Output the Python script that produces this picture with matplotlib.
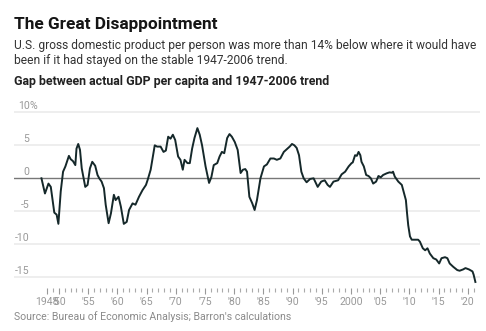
import matplotlib
matplotlib.use('Agg')
import matplotlib.pyplot as plt

# gap between actual GDP per capita and 1947-2006 trend, %
years = [1947.0, 1947.6, 1948.2, 1948.6, 1949.2, 1949.6, 1949.9, 1950.3, 1950.7, 1951.1,
         1951.7, 1952.0, 1952.4, 1952.8, 1953.0, 1953.3, 1953.6, 1953.9, 1954.5, 1954.9,
         1955.3, 1955.7, 1956.2, 1956.6, 1956.9, 1957.3, 1957.7, 1958.0, 1958.5, 1958.9,
         1959.4, 1959.7, 1960.2, 1960.6, 1961.1, 1961.6, 1962.0, 1962.6, 1963.1, 1963.7,
         1964.3, 1964.9, 1965.2, 1965.7, 1966.4, 1966.8, 1967.4, 1967.9, 1968.3, 1968.7,
         1969.1, 1969.5, 1969.9, 1970.4, 1970.8, 1971.2, 1971.5, 1972.0, 1972.4, 1972.8,
         1973.2, 1973.7, 1974.1, 1974.5, 1975.1, 1975.7, 1976.1, 1976.5, 1977.1, 1977.5,
         1977.9, 1978.3, 1978.8, 1979.2, 1979.6, 1980.1, 1980.6, 1981.1, 1981.5, 1981.9,
         1982.2, 1982.6, 1983.1, 1983.5, 1983.9, 1984.5, 1985.1, 1985.6, 1986.2, 1986.8,
         1987.3, 1987.9, 1988.5, 1989.0, 1989.5, 1989.9, 1990.3, 1990.7, 1991.1, 1991.5,
         1991.9, 1992.4, 1993.0, 1993.6, 1994.3, 1994.9, 1995.5, 1996.0, 1996.4, 1997.0,
         1997.8, 1998.4, 1999.0, 1999.6, 2000.1, 2000.3, 2000.7, 2001.0, 2001.3, 2001.6,
         2001.8, 2002.2, 2002.6, 2003.0, 2003.4, 2003.8, 2004.3, 2004.7, 2005.1, 2005.5,
         2006.1, 2006.6, 2007.0, 2007.2, 2007.5, 2008.1, 2008.7, 2009.0, 2009.4, 2009.6,
         2009.8, 2010.1, 2010.4, 2010.9, 2011.5, 2011.8, 2012.3, 2012.7, 2013.1, 2013.5,
         2014.1, 2014.6, 2015.1, 2015.5, 2016.1, 2016.5, 2016.9, 2017.5, 2018.2, 2018.6,
         2019.2, 2019.6, 2020.2, 2020.8, 2021.0, 2021.3]
gap = [0.0, -2.3, -0.8, -1.3, -5.2, -5.5, -6.9, -2.0, 1.0, 1.8,
       3.4, 2.9, 2.6, 2.0, 4.5, 5.2, 4.3, 1.5, -1.3, -1.0,
       1.5, 2.5, 1.9, 0.5, 0.0, -0.5, -1.5, -4.0, -6.8, -5.3,
       -2.5, -3.3, -2.8, -4.3, -6.9, -6.6, -4.8, -3.8, -4.0, -2.8,
       -1.8, -1.0, -0.2, 1.3, 5.0, 4.8, 4.8, 4.0, 4.2, 6.3,
       6.0, 6.6, 5.8, 3.3, 2.8, 1.3, 2.8, 2.3, 2.3, 4.5,
       6.1, 7.6, 6.6, 5.0, 1.8, -0.7, 0.2, 2.0, 2.3, 3.3,
       4.0, 3.8, 6.1, 6.7, 6.3, 5.5, 4.3, 0.8, 1.3, 1.4,
       1.0, -2.8, -3.8, -4.8, -3.3, 0.0, 1.8, 2.1, 3.0, 3.0,
       2.8, 3.0, 4.0, 4.4, 4.8, 5.2, 5.0, 4.6, 3.5, 1.0,
       0.0, -0.6, -0.1, 0.0, -1.3, -0.5, -0.3, -1.0, -1.3, -0.5,
       -0.3, 0.6, 1.0, 1.8, 2.3, 2.4, 3.5, 3.4, 4.0, 3.5,
       2.5, 1.8, 0.5, 0.35, 0.0, -0.8, -0.5, 0.35, 0.15, 0.5,
       0.75, 0.9, 0.85, 1.0, 0.25, -0.5, -1.0, -2.0, -3.3, -5.3,
       -7.1, -8.8, -9.3, -9.3, -9.3, -9.6, -10.6, -10.9, -10.6, -11.4,
       -12.1, -12.3, -12.9, -12.1, -11.95, -12.1, -12.9, -13.4, -13.9, -14.0,
       -13.8, -13.6, -13.8, -14.1, -14.6, -15.7]

ytick_vals = [10, 5, 0, -5, -10, -15]
xtick_years = [1948, 1950, 1955, 1960, 1965, 1970, 1975, 1980, 1985, 1990,
               1995, 2000, 2005, 2010, 2015, 2020]
xtick_labels = ['1948', "'50", "'55", "'60", "'65", "'70", "'75", "'80", "'85", "'90",
                "'95", '2000', "'05", "'10", "'15", "'20"]
minor_years = list(range(1948, 2022))

plt.rcParams['font.family'] = ['Roboto', 'DejaVu Sans']


def main():
    fig = plt.figure(figsize=(4.86, 3.31), dpi=100)
    W, H = 486.0, 331.0

    fig.text(14 / W, 1 - 29 / H, 'The Great Disappointment', fontsize=12.4,
             fontweight='bold', color='#151515', va='baseline')
    fig.text(14 / W, 1 - 48.7 / H, 'U.S. gross domestic product per person was more '
             'than 14% below where it would have', fontsize=8.65, color='#333333',
             va='baseline')
    fig.text(14 / W, 1 - 64.3 / H, 'been if it had stayed on the stable 1947-2006 trend.',
             fontsize=8.65, color='#333333', va='baseline')
    fig.text(14 / W, 1 - 85 / H, 'Gap between actual GDP per capita and 1947-2006 trend',
             fontsize=8.9, fontweight='bold', color='#222222', va='baseline')
    fig.text(14 / W, 1 - 320.5 / H,
             "Source: Bureau of Economic Analysis; Barron's calculations",
             fontsize=7.6, color='#8a8a8a', va='baseline')

    ax = fig.add_axes([14 / W, (H - 287.9) / H, 466 / W, 177.6 / H])
    ax.set_xlim(1942.3, 2022.09)
    ax.set_ylim(-16.6, 10.3)

    for v in ytick_vals:
        if v == 0:
            ax.axhline(0, color='#777777', lw=1.0, zorder=2)
        else:
            ax.axhline(v, color='#ebebeb', lw=1.2, zorder=1)
        ax.text(0.0333, v + 0.45, str(v), transform=ax.get_yaxis_transform(),
                ha='right', va='baseline', fontsize=7.6, color='#999999')
        if v == 10:
            ax.text(0.0333, v + 0.45, '%', transform=ax.get_yaxis_transform(),
                    ha='left', va='baseline', fontsize=7.6, color='#999999')

    ax.plot(years, gap, color='#15282a', lw=1.4, zorder=3, solid_joinstyle='round')

    for s in ax.spines.values():
        s.set_visible(False)
    ax.set_yticks([])
    ax.set_xticks(xtick_years)
    ax.set_xticklabels(xtick_labels)
    ax.set_xticks(minor_years, minor=True)
    ax.tick_params(axis='x', which='major', length=4.2, width=0.8, color='#999999',
                   labelsize=7.6, labelcolor='#999999', pad=2.5)
    ax.tick_params(axis='x', which='minor', length=3.2, width=0.8, color='#aaaaaa')

    plt.savefig('out.png', dpi=100)


if __name__ == '__main__':
    main()
